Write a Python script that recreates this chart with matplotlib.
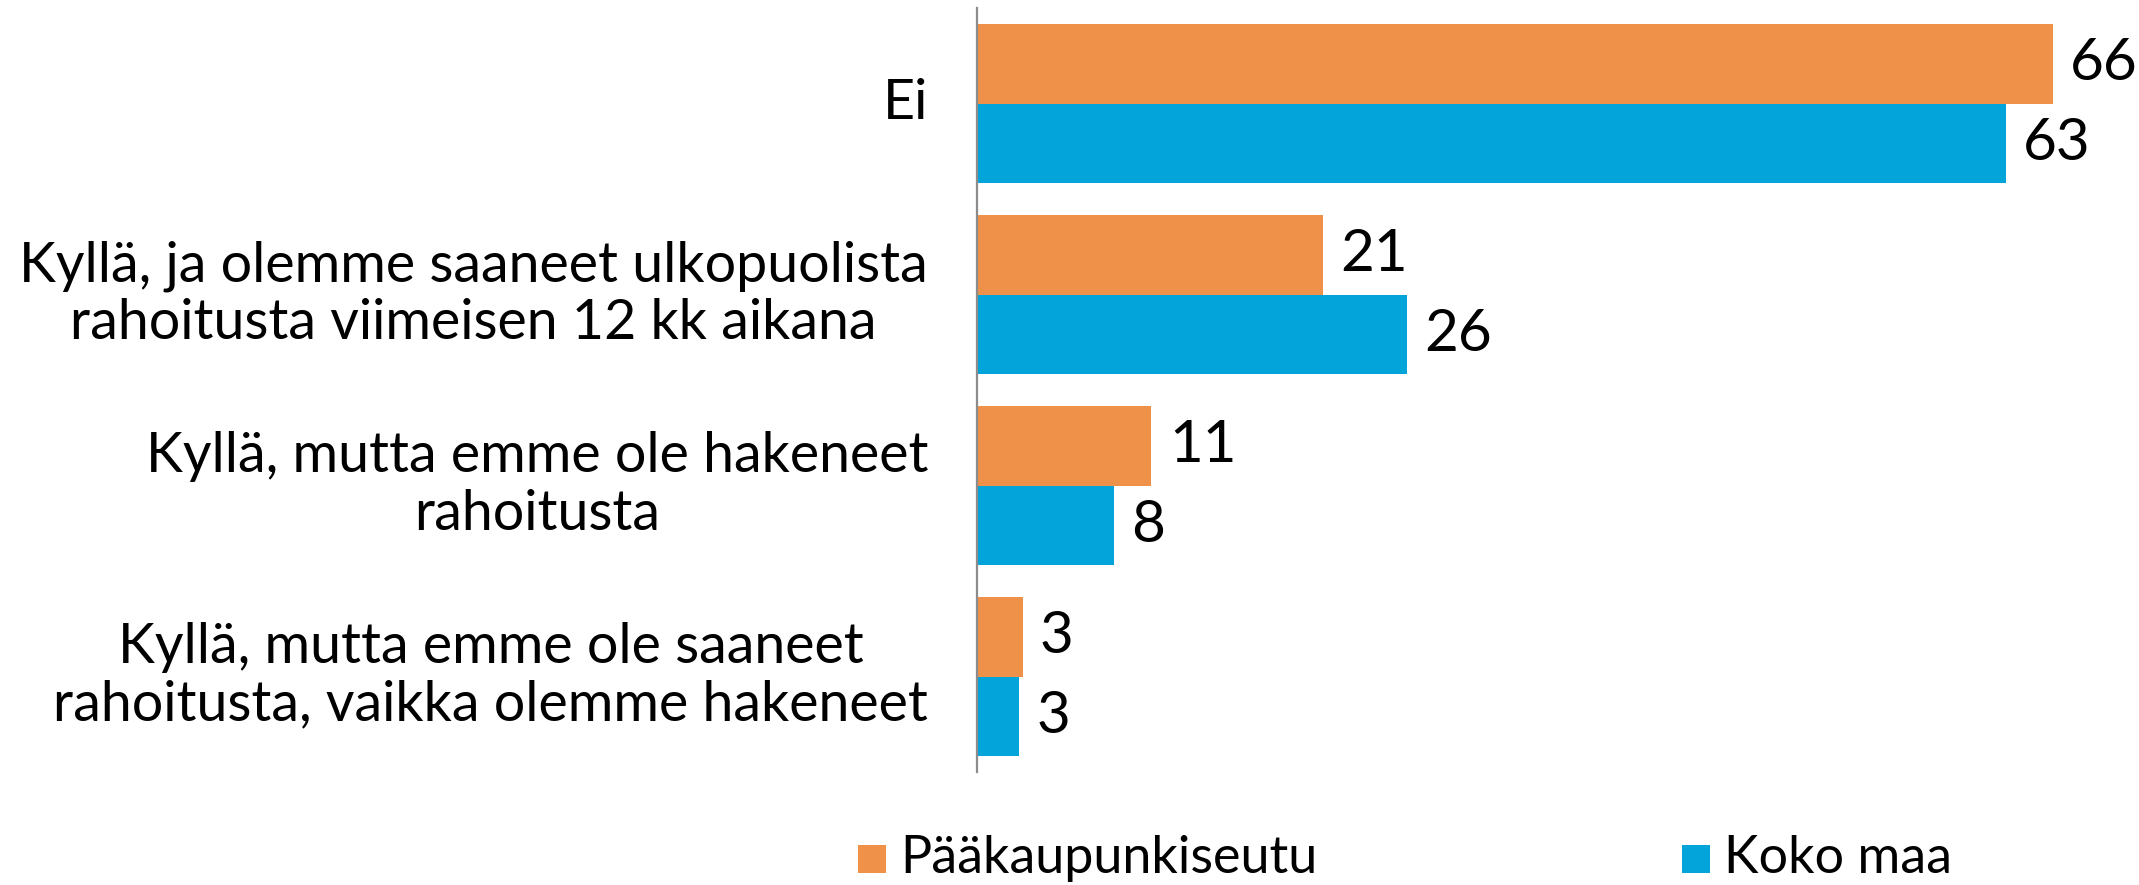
import matplotlib
matplotlib.use('Agg')
import matplotlib.pyplot as plt
from matplotlib.patches import Rectangle
import numpy as np

categories = [
    "Ei",
    "Kyllä, ja olemme saaneet ulkopuolista\nrahoitusta viimeisen 12 kk aikana",
    "Kyllä, mutta emme ole hakeneet\nrahoitusta",
    "Kyllä, mutta emme ole saaneet\nrahoitusta, vaikka olemme hakeneet",
]
series_names = ["Pääkaupunkiseutu", "Koko maa"]
paakaupunkiseutu = [66.0, 21.2, 10.7, 2.8]
koko_maa = [63.1, 26.4, 8.4, 2.6]
colors = ["#F0914A", "#02A4DA"]

W, H = 2139, 885
fig = plt.figure(figsize=(W / 100, H / 100), dpi=100)
ax_left_px, ax_top_px, ax_bot_px = 977, 8, 772
ax = fig.add_axes([ax_left_px / W, (H - ax_bot_px) / H, 1 - ax_left_px / W,
                   (ax_bot_px - ax_top_px) / H])

y = np.arange(len(categories))
h = 79.5 / 191
ax.barh(y - h / 2, paakaupunkiseutu, height=h, color=colors[0], label=series_names[0])
ax.barh(y + h / 2, koko_maa, height=h, color=colors[1], label=series_names[1])
ax.set_ylim(len(categories) - 0.5, -0.5)
ax.set_xlim(0, (W - ax_left_px) / 16.3)

for s in ["top", "right", "bottom"]:
    ax.spines[s].set_visible(False)
ax.spines["left"].set_color("#8c8c8c")
ax.spines["left"].set_linewidth(1.6)
ax.set_xticks([])
ax.set_yticks([])

cat_font = dict(family=["Lato", "DejaVu Sans"], fontsize=40)
num_font = dict(family=["Lato", "DejaVu Sans"], fontsize=42)
leg_font = dict(family=["Lato", "DejaVu Sans"], fontsize=37.5)

label_x = -49 / (W - ax_left_px)
for yy, cat in zip(y, categories):
    ax.text(label_x, yy, cat, transform=ax.get_yaxis_transform(), ha="right",
            va="center", multialignment="center", linespacing=1.15,
            color="black", **cat_font)

for vals, off in ((paakaupunkiseutu, -h / 2), (koko_maa, h / 2)):
    for yy, v in zip(y, vals):
        ax.annotate(f"{round(v)}", xy=(v, yy + off), xytext=(12.5, 0),
                    textcoords="offset points", ha="left", va="center",
                    color="black", **num_font)

# legend
sq = 28
for (x0, name, c) in ((858, series_names[0], colors[0]), (1682, series_names[1], colors[1])):
    fig.add_artist(Rectangle((x0 / W, (H - 873) / H), sq / W, sq / H,
                             transform=fig.transFigure, color=c, lw=0))
    fig.text((x0 + sq + 14) / W, (H - 873) / H, name, ha="left", va="baseline",
             color="black", **leg_font)

fig.savefig("out.png", dpi=100)
